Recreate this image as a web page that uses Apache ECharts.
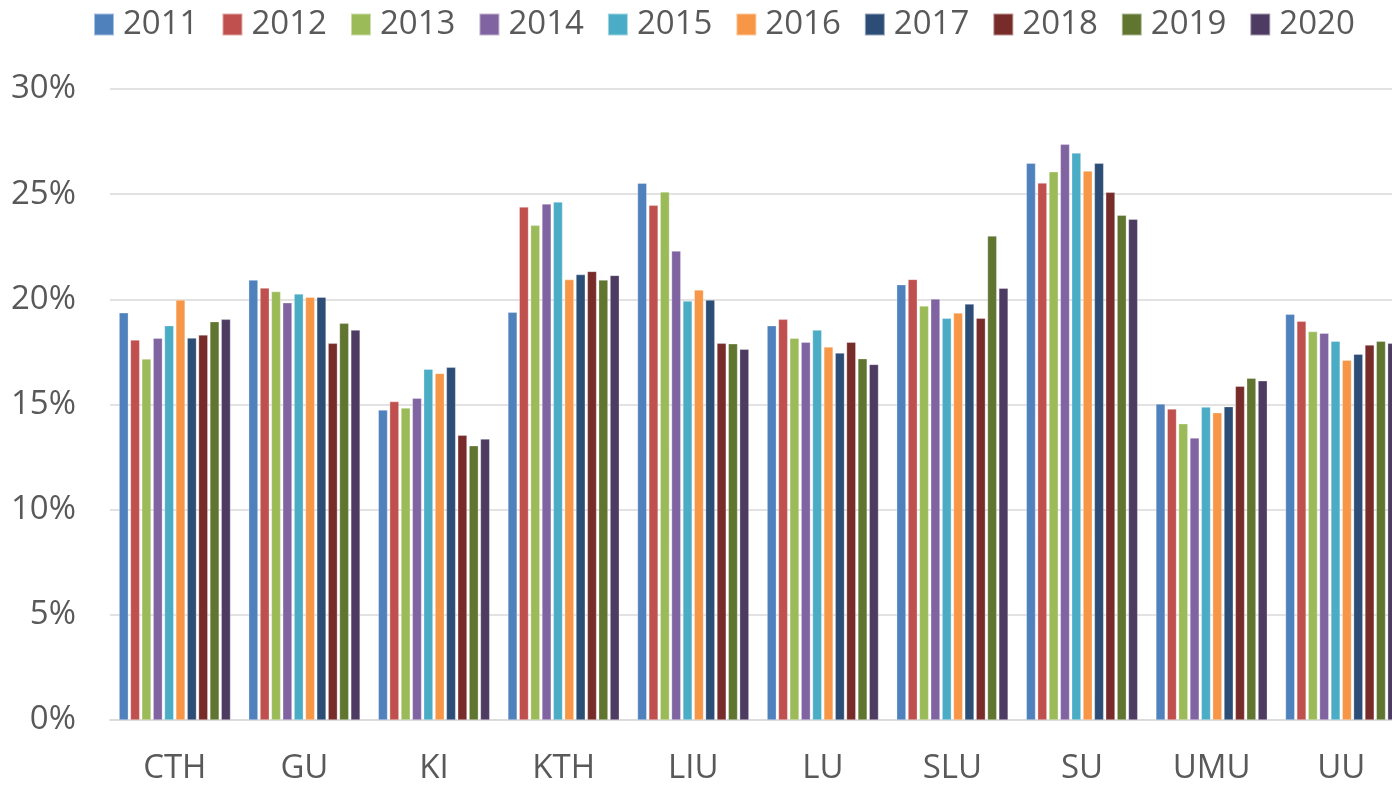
<!DOCTYPE html>
<html>
<head>
<meta charset="utf-8">
<script src="https://cdn.jsdelivr.net/npm/echarts@6/dist/echarts.min.js"></script>
<style>
  html, body { margin: 0; padding: 0; background: #fff; }
  #chart { width: 1392px; height: 785px; }
</style>
</head>
<body>
<div id="chart"></div>
<script>
const categories = ['CTH', 'GU', 'KI', 'KTH', 'LIU', 'LU', 'SLU', 'SU', 'UMU', 'UU'];
const years = ['2011', '2012', '2013', '2014', '2015', '2016', '2017', '2018', '2019', '2020'];
const yTicks = [0, 5, 10, 15, 20, 25, 30];

// one array per year, values in % for each university
const v2011 = [19.36, 20.92, 14.74, 19.39, 25.52, 18.75, 20.70, 26.47, 15.03, 19.29];
const v2012 = [18.07, 20.54, 15.14, 24.39, 24.47, 19.05, 20.95, 25.53, 14.79, 18.96];
const v2013 = [17.17, 20.37, 14.84, 23.52, 25.11, 18.15, 19.69, 26.07, 14.09, 18.47];
const v2014 = [18.15, 19.84, 15.30, 24.54, 22.30, 17.96, 20.02, 27.37, 13.41, 18.39];
const v2015 = [18.75, 20.26, 16.68, 24.63, 19.92, 18.54, 19.10, 26.96, 14.88, 18.01];
const v2016 = [19.97, 20.10, 16.48, 20.94, 20.45, 17.74, 19.35, 26.10, 14.61, 17.11];
const v2017 = [18.16, 20.10, 16.77, 21.18, 19.97, 17.45, 19.78, 26.47, 14.90, 17.39];
const v2018 = [18.31, 17.91, 13.54, 21.33, 17.91, 17.96, 19.10, 25.09, 15.87, 17.83];
const v2019 = [18.94, 18.86, 13.04, 20.92, 17.89, 17.18, 23.01, 24.00, 16.25, 18.01];
const v2020 = [19.05, 18.54, 13.36, 21.14, 17.63, 16.91, 20.53, 23.81, 16.13, 17.91];
const values = [v2011, v2012, v2013, v2014, v2015, v2016, v2017, v2018, v2019, v2020];

const colors = ['#4F81BD', '#C0504D', '#9BBB59', '#8064A2', '#4BACC6',
                '#F79646', '#2C4D75', '#772C2A', '#5F7530', '#4D3B62'];

const font = 'Open Sans';
const myChart = echarts.init(document.getElementById('chart'));

const option = {
  animation: false,
  color: colors,
  legend: {
    top: 3,
    left: 88,
    itemWidth: 20,
    itemHeight: 22,
    itemGap: 23,
    icon: 'rect',
    textStyle: {
      fontFamily: font,
      fontSize: 33,
      color: '#595959',
      padding: [0, 0, 0, 4],
    },
    data: years,
  },
  grid: {
    left: 110,
    top: 89,
    bottom: 65,
    width: 1296,
    outerBoundsMode: 'none',
  },
  xAxis: {
    type: 'category',
    data: categories,
    axisLine: { lineStyle: { color: '#d9d9d9', width: 1.5 } },
    axisTick: { show: false },
    axisLabel: {
      fontFamily: font,
      fontSize: 33,
      color: '#595959',
      margin: 32,
    },
  },
  yAxis: {
    type: 'value',
    min: yTicks[0],
    max: yTicks[yTicks.length - 1],
    interval: 5,
    axisLine: { show: false },
    axisTick: { show: false },
    splitLine: { lineStyle: { color: '#d9d9d9', width: 1.5 } },
    axisLabel: {
      fontFamily: font,
      fontSize: 33,
      color: '#595959',
      margin: 34,
      formatter: '{value}%',
    },
  },
  series: years.map((y, i) => ({
    name: y,
    type: 'bar',
    data: values[i],
    barGap: '22%',
    barCategoryGap: '14%',
    itemStyle: {
      borderColor: 'rgba(255,255,255,0.5)',
      borderWidth: 0.6,
    },
  })),
};

myChart.setOption(option);
</script>
</body>
</html>
